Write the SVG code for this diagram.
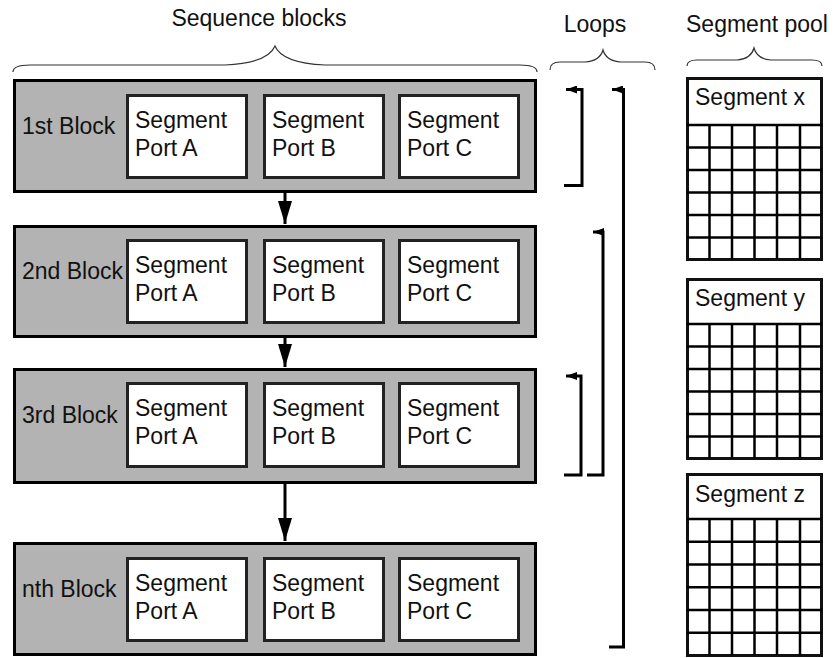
<svg xmlns="http://www.w3.org/2000/svg" width="839" height="658" viewBox="0 0 839 658">
<style>
text{font-family:"Liberation Sans",Arial,sans-serif;font-size:23px;fill:#111}
.blk{fill:#b3b3b3;stroke:#000;stroke-width:3}
.port{fill:#fff;stroke:#222;stroke-width:3}
.pool{fill:#fff;stroke:#111;stroke-width:3}
.grid{stroke:#000;stroke-width:2.5;fill:none}
.brace{fill:none;stroke:#333;stroke-width:1.2}
.flow{stroke:#000;stroke-width:3;fill:none}
.loop{stroke:#000;stroke-width:3;fill:none}
</style>
<defs>
<marker id="down" viewBox="0 0 23 14" refX="23" refY="7" markerWidth="23" markerHeight="14" markerUnits="userSpaceOnUse" orient="auto"><path d="M0,0 L23,7 L0,14 z" fill="#000"/></marker>
<marker id="left" viewBox="0 0 11 8" refX="11" refY="4" markerWidth="11" markerHeight="8" markerUnits="userSpaceOnUse" orient="auto"><path d="M0,0 L11,4 L0,8 z" fill="#000"/></marker>
</defs>
<g id="titles">
<text x="259" y="26" text-anchor="middle">Sequence blocks</text>
<text x="595" y="32" text-anchor="middle">Loops</text>
<text x="757" y="32" text-anchor="middle">Segment pool</text>
<path class="brace" d="M13,72 Q13,65 30,65 L225,65 Q268,63 275,46 Q282,63 325,65 L520,65 Q537,65 537,72"/>
<path class="brace" d="M550,70 Q550,62 560,62 L585,62 Q600,61 603,50 Q606,61 621,62 L645,62 Q655,62 655,70"/>
<path class="brace" d="M687,66 Q687,60 697,60 L737,60 Q751,59 754,48 Q757,59 771,60 L812,60 Q822,60 822,66"/>
</g>
<g id="block1">
<rect class="blk" x="14.5" y="80.5" width="521" height="111"/>
<text x="22" y="134">1st Block</text>
<rect class="port" x="127.5" y="95.5" width="119" height="82"/>
<text x="135" y="128">Segment</text><text x="135" y="156">Port A</text>
<rect class="port" x="264.5" y="95.5" width="119" height="82"/>
<text x="272" y="128">Segment</text><text x="272" y="156">Port B</text>
<rect class="port" x="399.5" y="95.5" width="119" height="82"/>
<text x="407" y="128">Segment</text><text x="407" y="156">Port C</text>
</g>
<g id="block2">
<rect class="blk" x="14.5" y="226.5" width="521" height="110"/>
<text x="22" y="279">2nd Block</text>
<rect class="port" x="127.5" y="240.5" width="119" height="82"/>
<text x="135" y="273">Segment</text><text x="135" y="301">Port A</text>
<rect class="port" x="264.5" y="240.5" width="119" height="82"/>
<text x="272" y="273">Segment</text><text x="272" y="301">Port B</text>
<rect class="port" x="399.5" y="240.5" width="119" height="82"/>
<text x="407" y="273">Segment</text><text x="407" y="301">Port C</text>
</g>
<g id="block3">
<rect class="blk" x="14.5" y="369.5" width="521" height="113"/>
<text x="22" y="423">3rd Block</text>
<rect class="port" x="127.5" y="383.5" width="119" height="83"/>
<text x="135" y="416">Segment</text><text x="135" y="444">Port A</text>
<rect class="port" x="264.5" y="383.5" width="119" height="83"/>
<text x="272" y="416">Segment</text><text x="272" y="444">Port B</text>
<rect class="port" x="399.5" y="383.5" width="119" height="83"/>
<text x="407" y="416">Segment</text><text x="407" y="444">Port C</text>
</g>
<g id="blockn">
<rect class="blk" x="14.5" y="543.5" width="521" height="111"/>
<text x="22" y="597">nth Block</text>
<rect class="port" x="127.5" y="558.5" width="119" height="82"/>
<text x="135" y="591">Segment</text><text x="135" y="619">Port A</text>
<rect class="port" x="264.5" y="558.5" width="119" height="82"/>
<text x="272" y="591">Segment</text><text x="272" y="619">Port B</text>
<rect class="port" x="399.5" y="558.5" width="119" height="82"/>
<text x="407" y="591">Segment</text><text x="407" y="619">Port C</text>
</g>
<g id="segx">
<rect class="pool" x="687.5" y="78.5" width="134" height="181"/>
<text x="695" y="105">Segment x</text>
<path class="grid" d="M687,125H822M687,147.5H822M687,170H822M687,192.5H822M687,215H822M687,237.5H822M709.5,125V259M732,125V259M754.5,125V259M777,125V259M800,125V259"/>
</g>
<g id="segy">
<rect class="pool" x="687.5" y="279.5" width="134" height="179"/>
<text x="695" y="306">Segment y</text>
<path class="grid" d="M687,324H822M687,346.5H822M687,369H822M687,391.5H822M687,414H822M687,436.5H822M709.5,324V458M732,324V458M754.5,324V458M777,324V458M800,324V458"/>
</g>
<g id="segz">
<rect class="pool" x="687.5" y="474.5" width="134" height="181"/>
<text x="695" y="502">Segment z</text>
<path class="grid" d="M687,519H822M687,541.75H822M687,564.5H822M687,587.25H822M687,610H822M687,632.75H822M709.5,519V655M732,519V655M754.5,519V655M777,519V655M800,519V655"/>
</g>
<g id="connectors">
<line class="flow" x1="285" y1="193" x2="285" y2="224" marker-end="url(#down)"/>
<line class="flow" x1="285" y1="338" x2="285" y2="367" marker-end="url(#down)"/>
<line class="flow" x1="285" y1="484" x2="285" y2="541" marker-end="url(#down)"/>
<path class="loop" d="M564,185.5H582V89.5H566" marker-end="url(#left)"/>
<path class="loop" d="M609,647H623.5V89.5H612" marker-end="url(#left)"/>
<path class="loop" d="M587,475H603V232H593" marker-end="url(#left)"/>
<path class="loop" d="M564,475H581V376H566" marker-end="url(#left)"/>
</g>
</svg>
